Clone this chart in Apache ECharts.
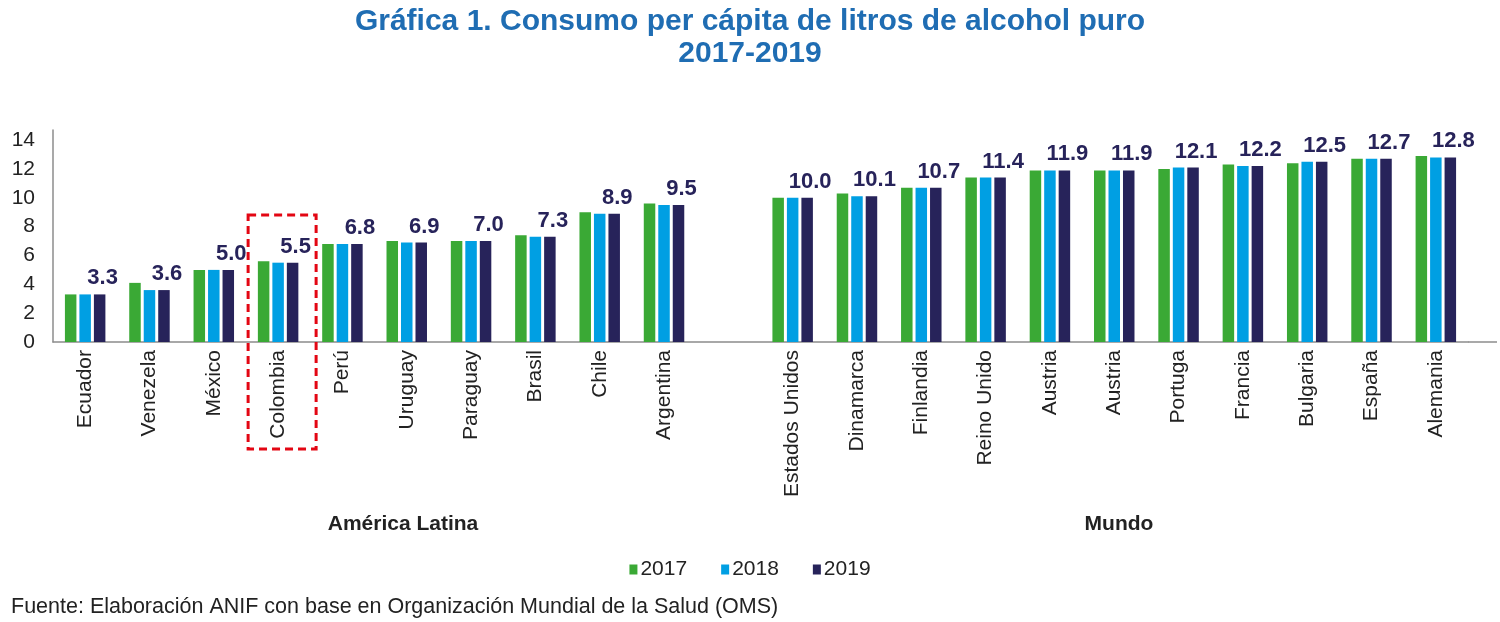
<!DOCTYPE html>
<html>
<head>
<meta charset="utf-8">
<title>Consumo per cápita de litros de alcohol puro</title>
<script src="https://cdn.jsdelivr.net/npm/echarts@6/dist/echarts.min.js"></script>
<style>
	html,body{margin:0;padding:0;background:#fff;}
	#main{width:1500px;height:622px;}
</style>
</head>
<body>
<div id="main"></div>
<script>
// categorias (el '' es el hueco entre América Latina y Mundo)
let paises = ['Ecuador','Venezela','México','Colombia','Perú','Uruguay','Paraguay','Brasil','Chile','Argentina','',
	'Estados Unidos','Dinamarca','Finlandia','Reino Unido','Austria','Austria','Portuga','Francia','Bulgaria','España','Alemania'];
let anios = ['2017','2018','2019'];
let datos2017 = [3.3,4.1,5.0,5.6,6.8,7.0,7.0,7.4,9.0,9.6,null,10.0,10.3,10.7,11.4,11.9,11.9,12.0,12.3,12.4,12.7,12.9];
let datos2018 = [3.3,3.6,5.0,5.5,6.8,6.9,7.0,7.3,8.9,9.5,null,10.0,10.1,10.7,11.4,11.9,11.9,12.1,12.2,12.5,12.7,12.8];
let datos2019 = [3.3,3.6,5.0,5.5,6.8,6.9,7.0,7.3,8.9,9.5,null,10.0,10.1,10.7,11.4,11.9,11.9,12.1,12.2,12.5,12.7,12.8];
let ticksY = [0,2,4,6,8,10,12,14];

let colores = ['#3AA935','#009FE3','#27235A'];
let fuente = 'Liberation Sans';

let myChart = echarts.init(document.getElementById('main'));

function serie(nombre, datos, color, conEtiqueta){
	return {
		name: nombre,
		type: 'bar',
		data: datos,
		barWidth: 11.5,
		barGap: '26%',
		itemStyle: {color: color},
		label: {
			show: conEtiqueta,
			position: 'top',
			offset: [3, 0],
			color: '#27235A',
			fontFamily: fuente,
			fontWeight: 'bold',
			fontSize: 22,
			formatter: function(p){ return p.value == null ? '' : p.value.toFixed(1); }
		}
	};
}

let option = {
	animation: false,
	textStyle: {fontFamily: fuente},
	title: {
		text: 'Gráfica 1. Consumo per cápita de litros de alcohol puro\n2017-2019',
		left: 'center',
		top: 1,
		textStyle: {color:'#1F6DB3', fontSize:30, fontWeight:'bold', fontFamily:fuente, lineHeight:32}
	},
	legend: {
		data: anios,
		top: 554,
		left: 'center',
		itemWidth: 8,
		itemHeight: 10,
		itemGap: 34,
		icon: 'rect',
		textStyle: {color:'#222', fontSize:21, fontFamily:fuente, padding:[0,0,0,-2]}
	},
	// el eje horizontal sigue unos px despues de la ultima categoria
	grid: {left:53, right:32, top:130, bottom:280},
	xAxis: {
		type: 'category',
		data: paises,
		axisLine: {lineStyle:{color:'#8c8c8c', width:1.5}},
		axisTick: {show:false},
		axisLabel: {
			rotate: 90,
			interval: 0,
			margin: 8,
			color: '#222',
			fontSize: 21,
			fontFamily: fuente
		}
	},
	yAxis: {
		type: 'value',
		min: ticksY[0],
		max: 14.7,
		interval: 2,
		splitLine: {show:false},
		axisLine: {show:true, lineStyle:{color:'#8c8c8c', width:1.5}},
		axisTick: {show:false},
		axisLabel: {
			color: '#222',
			fontSize: 21,
			fontFamily: fuente,
			margin: 18,
			formatter: function(v){ return ticksY.indexOf(v) >= 0 ? String(v) : ''; }
		}
	},
	series: [
		serie(anios[0], datos2017, colores[0], false),
		serie(anios[1], datos2018, colores[1], false),
		serie(anios[2], datos2019, colores[2], true)
	]
};
myChart.setOption(option);

// recuadro rojo de Colombia, prolongacion del eje y textos de grupo
let cx = myChart.convertToPixel({xAxisIndex:0}, 'Colombia');
let yTop = myChart.convertToPixel({yAxisIndex:0}, 8.8);
let yEje = myChart.convertToPixel({yAxisIndex:0}, 0);
myChart.setOption({
	graphic: [
		{
			type: 'line',
			shape: {x1: 1500 - 32, y1: yEje, x2: 1497, y2: yEje},
			style: {stroke: '#8c8c8c', lineWidth: 1.5}
		},
		{
			type: 'rect',
			shape: {x: cx - 30, y: yTop, width: 68, height: yEje + 107 - yTop},
			style: {fill: 'none', stroke: '#E30613', lineWidth: 3, lineDash: [8, 5]},
			z: 10
		},
		{
			type: 'text',
			x: 403, y: 524,
			style: {text:'América Latina', font:'bold 21px "Liberation Sans"', fill:'#222', align:'center', verticalAlign:'middle'}
		},
		{
			type: 'text',
			x: 1119, y: 524,
			style: {text:'Mundo', font:'bold 21px "Liberation Sans"', fill:'#222', align:'center', verticalAlign:'middle'}
		},
		{
			type: 'text',
			x: 11, y: 607,
			style: {text:'Fuente: Elaboración ANIF con base en Organización Mundial de la Salud (OMS)', font:'21.5px "Liberation Sans"', fill:'#222', align:'left', verticalAlign:'middle'}
		}
	]
});
</script>
</body>
</html>
